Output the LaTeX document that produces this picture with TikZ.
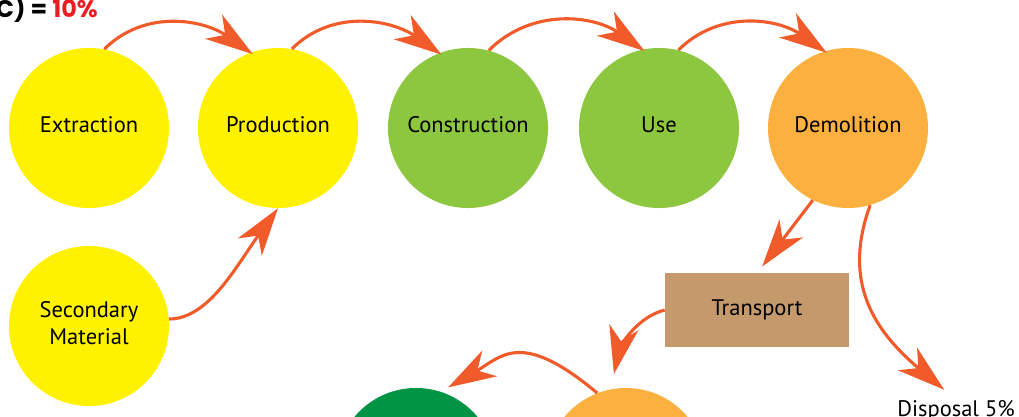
\documentclass[tikz,border=0pt]{standalone}
\usepackage{fontspec}
\setmainfont{PT Sans}
\newfontfamily\headfont{Poppins}
\usetikzlibrary{arrows.meta}
\definecolor{yelc}{HTML}{FFF200}
\definecolor{lgreenc}{HTML}{8DC63F}
\definecolor{orangec}{HTML}{FBB040}
\definecolor{dgreenc}{HTML}{009444}
\definecolor{brownc}{HTML}{C49A6C}
\definecolor{arrowc}{HTML}{F15A29}
\definecolor{redc}{HTML}{ED1C24}

\begin{document}
\begin{tikzpicture}[x=0.025cm,y=0.025cm,
  font=\fontsize{16}{19}\selectfont,
  stage/.style={circle,minimum size=4cm,inner sep=0pt,align=center,text depth=0.45em},
  tbox/.style={rectangle,minimum width=4.6cm,minimum height=1.825cm,inner sep=0pt,fill=brownc},
  flow/.style={draw=arrowc,line width=2.2pt,-{Stealth[length=34pt,width=21pt,inset=10pt]}},
  hop/.style={flow,shorten >=-2pt,out=45,in=145}]
\useasboundingbox (0,0) rectangle (1019,416);
\clip (0,0) rectangle (1019,416);
% ================ 标题（左上角） ================
\node[anchor=base east,inner sep=0pt,font=\headfont\bfseries\fontsize{17}{20}\selectfont] (rc) at (98,398)
  {C) = \textcolor{redc}{10\%}};
% ================ 上排五个阶段 ================
\node[stage,fill=yelc] (ext) at (89,288) {Extraction};
\node[stage,fill=yelc] (prod) at (278,288) {Production};
\node[stage,fill=lgreenc] (cons) at (468,288) {Construction};
\node[stage,fill=lgreenc] (use) at (659,288) {Use};
\node[stage,fill=orangec] (demo) at (848,288) {Demolition};
% 二次材料
\node[stage,fill=yelc] (sec) at (89,90) {Secondary\\Material};
% 运输 + 填埋
\node[tbox] (trans) at (757,106) {Transport};
\node[anchor=base east,inner sep=0pt] (disp) at (1015,0) {Disposal 5\%};
% 下排（只露出顶部）
\node[stage,fill=dgreenc] (lowgreen) at (416,-52) {};
\node[stage,fill=orangec] (loworange) at (626,-52) {};
% ================ 箭头 ================
\draw[hop] (ext.79) to (prod.110);
\draw[hop] (prod.80) to (cons.111);
\draw[hop] (cons.75) to (use.102);
\draw[hop] (use.76) to (demo.107);
\draw[flow] (sec.5) .. controls +(0:40) and +(234:70) .. (prod.south);
\draw[flow,shorten >=6pt] (demo.244) -- (trans.north);
\draw[flow,shorten >=11pt] (demo.286) .. controls +(250:80) and +(140:110) .. (disp.north);
\draw[flow,shorten >=11pt] (trans.west) .. controls +(195:35) and +(78:35) .. (loworange.101);
\draw[flow,shorten >=6pt] (loworange.111) .. controls +(140:100) and +(30:70) .. (lowgreen.72);
\end{tikzpicture}
\end{document}
